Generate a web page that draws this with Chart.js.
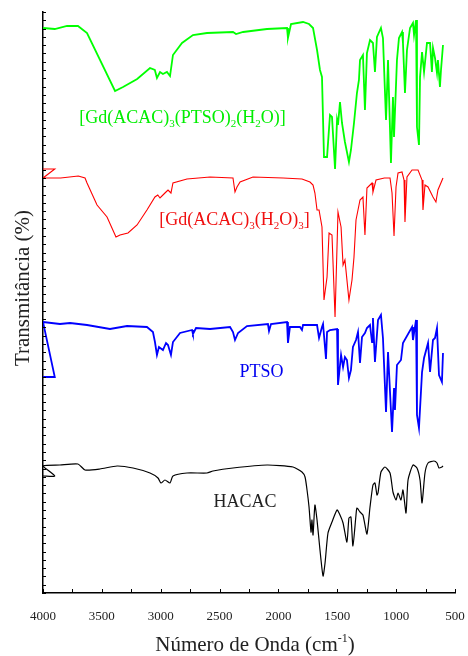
<!DOCTYPE html>
<html>
<head>
<meta charset="utf-8">
<script src="https://cdn.jsdelivr.net/npm/chart.js@4"></script>
<style>
  html, body { margin: 0; padding: 0; background: #fff; }
  canvas { display: block; }
</style>
</head>
<body>
<canvas id="c" width="468" height="656"></canvas>
<script>
// FTIR spectra, transmittance in arbitrary units, each trace shifted vertically.
// Wavenumber axis runs from 4000 down to 500 cm-1.

const xTickValues = [4000, 3500, 3000, 2500, 2000, 1500, 1000, 500];

// [Gd(ACAC)3(PTSO)2(H2O)]
const gdPtsoWn = [4000,3900,3796,3703,3626,3388,3320,3200,3091,3050,3032,3006,2981,2947,2921,2896,2819,2726,2607,2386,2360,2300,2097,1927,1919,1893,1791,1740,1706,1672,1647,1630,1613,1587,1562,1545,1519,1502,1494,1477,1460,1435,1401,1384,1358,1333,1316,1307,1282,1265,1248,1222,1197,1180,1163,1129,1112,1086,1069,1044,1027,1018,993,976,950,942,925,908,882,857,848,831,823,806,797,780,763,738,712,696,687,670,653,645,628,619,602];
const gdPtsoT  = [565,564,567,567,560,502,506,514,525,523,515,521,519,521,517,538,550,558,560,561,559,561,564,565,555,569,571,569,565,543,523,516,436,436,478,476,424,473,468,491,470,451,431,443,470,500,513,533,538,483,540,553,550,521,556,565,555,473,533,430,496,456,533,555,561,550,500,543,565,570,558,573,466,448,516,541,521,550,550,521,545,535,520,533,506,523,548];

// [Gd(ACAC)3(H2O)3]
const gdH2oWn = [4000,3900,4000,3850,3700,3643,3626,3541,3456,3380,3346,3278,3201,3117,3049,3025,3006,2964,2938,2913,2896,2777,2581,2386,2369,2352,2326,2216,1961,1800,1732,1706,1690,1672,1655,1630,1613,1587,1570,1545,1519,1494,1468,1451,1435,1401,1375,1358,1341,1307,1282,1265,1248,1205,1197,1171,1100,1052,1035,1018,1001,984,950,933,925,908,865,814,780,772,755,729,687,662,645,602];
const gdH2oT  = [424,424,415,415,417,415,410,388,376,356,358,360,368,383,396,398,395,400,403,400,410,414,416,415,401,406,411,416,415,414,411,408,400,383,383,366,293,316,360,358,276,381,366,328,333,293,313,336,373,393,396,358,405,410,401,413,415,415,400,357,406,420,421,413,371,416,423,423,413,383,408,406,396,391,403,415];

// PTSO
const ptsoWn = [4000,3900,4000,3856,3770,3626,3431,3286,3117,3066,3049,3032,3015,2981,2955,2938,2913,2896,2836,2734,2726,2700,2581,2411,2386,2369,2343,2267,2089,2080,2063,1927,1919,1902,1817,1800,1791,1672,1655,1630,1621,1596,1587,1562,1502,1494,1468,1451,1435,1418,1401,1384,1367,1341,1324,1307,1290,1265,1248,1222,1205,1197,1180,1154,1129,1112,1086,1069,1035,1018,1010,993,959,942,865,857,831,823,806,780,763,729,712,687,670,653,636,611,602];
const ptsoT  = [216,216,271,269,270,268,264,267,266,261,251,238,246,243,250,248,238,251,260,263,259,265,264,266,261,253,260,267,269,262,269,271,250,266,266,263,268,268,255,266,269,234,261,263,264,208,238,226,236,233,215,223,246,253,261,230,256,260,265,268,251,275,231,273,278,255,181,241,161,205,183,228,233,250,266,253,273,178,165,221,235,250,221,253,255,265,218,211,240];

// HACAC
const hacacWn = [4000,3900,4000,3856,3703,3643,3516,3371,3235,3091,3023,2998,2964,2921,2896,2777,2607,2556,2386,2097,1876,1800,1774,1757,1740,1723,1715,1706,1690,1672,1647,1621,1604,1579,1545,1502,1477,1451,1418,1401,1384,1367,1341,1333,1307,1282,1248,1222,1197,1180,1163,1154,1129,1095,1052,1027,1001,984,959,942,916,899,857,823,797,780,755,729,679,653,636,611,602];
const hacacT  = [117,117,127,128,129,123,124,127,125,120,115,110,113,110,117,120,120,122,125,128,126,121,116,103,86,61,73,58,88,73,43,17,30,60,71,83,78,70,51,75,76,47,78,85,81,78,59,86,108,110,98,100,121,126,120,101,93,100,93,103,80,113,128,125,113,90,120,130,132,130,125,126,127];

// Trace labels: text pieces ([text, isSubscript]) and their centre in data units
const traceLabels = [
  { parts: [['[Gd(ACAC)',0],['3',1],['(PTSO)',0],['2',1],['(H',0],['2',1],['O)]',0]], wn: 2815, t: 475, color: '#00ee00' },
  { parts: [['[Gd(ACAC)',0],['3',1],['(H',0],['2',1],['O)',0],['3',1],[']',0]], wn: 2373, t: 373, color: '#f01010' },
  { parts: [['PTSO',0]], wn: 2144, t: 221, color: '#0000f0' },
  { parts: [['HACAC',0]], wn: 2284, t: 91, color: '#222222' }
];

const SERIF = '"Liberation Serif", "DejaVu Serif", serif';

function pts(wn, t) {
  const n = Math.min(wn.length, t.length);
  const out = [];
  for (let i = 0; i < n; i++) out.push({ x: wn[i], y: t[i] });
  return out;
}

const spectraDecor = {
  id: 'spectraDecor',
  afterDraw(chart) {
    const ctx = chart.ctx;
    const xs = chart.scales.x, ys = chart.scales.y;
    const area = chart.chartArea;
    ctx.save();
    ctx.strokeStyle = '#000';
    ctx.lineWidth = 1;
    // inward ticks on the wavenumber axis, every 250 cm-1
    for (let v = 500; v <= 4000; v += 250) {
      const px = Math.round(xs.getPixelForValue(v)) + 0.5;
      ctx.beginPath();
      ctx.moveTo(px, area.bottom);
      ctx.lineTo(px, area.bottom - 4);
      ctx.stroke();
    }
    // inward minor ticks on the transmittance axis
    for (let v = 0; v <= ys.max + 0.01; v += 8.3) {
      const py = Math.round(ys.getPixelForValue(v)) + 0.5;
      ctx.beginPath();
      ctx.moveTo(area.left, py);
      ctx.lineTo(area.left + 3, py);
      ctx.stroke();
    }

    // trace labels with subscripts
    const mainFont = '18px ' + SERIF;
    const subFont = '11px ' + SERIF;
    ctx.textBaseline = 'middle';
    ctx.textAlign = 'left';
    traceLabels.forEach(lab => {
      let w = 0;
      lab.parts.forEach(([s, sub]) => {
        ctx.font = sub ? subFont : mainFont;
        w += ctx.measureText(s).width;
      });
      let x = xs.getPixelForValue(lab.wn) - w / 2;
      const y = ys.getPixelForValue(lab.t);
      ctx.fillStyle = lab.color;
      lab.parts.forEach(([s, sub]) => {
        ctx.font = sub ? subFont : mainFont;
        ctx.fillText(s, x, sub ? y + 6 : y);
        x += ctx.measureText(s).width;
      });
    });

    // axis titles
    ctx.fillStyle = '#222';
    ctx.textBaseline = 'alphabetic';
    // x title with superscript
    const xParts = [['Número de Onda (cm', 0], ['-1', 1], [')', 0]];
    const tFont = '21px ' + SERIF, supFont = '12px ' + SERIF;
    let tw = 0;
    xParts.forEach(([s, sup]) => { ctx.font = sup ? supFont : tFont; tw += ctx.measureText(s).width; });
    let tx = 255 - tw / 2;
    const ty = 651;
    xParts.forEach(([s, sup]) => {
      ctx.font = sup ? supFont : tFont;
      ctx.fillText(s, tx, sup ? ty - 9 : ty);
      tx += ctx.measureText(s).width;
    });
    // y title
    ctx.save();
    ctx.translate(29, 288);
    ctx.rotate(-Math.PI / 2);
    ctx.font = tFont;
    ctx.textAlign = 'center';
    ctx.fillText('Transmitância (%)', 0, 0);
    ctx.restore();

    ctx.restore();
  }
};

new Chart(document.getElementById('c'), {
  type: 'line',
  data: {
    datasets: [
      { label: '[Gd(ACAC)3(PTSO)2(H2O)]', data: pts(gdPtsoWn, gdPtsoT), borderColor: '#00ff00', borderWidth: 1.8, tension: 0 },
      { label: '[Gd(ACAC)3(H2O)3]', data: pts(gdH2oWn, gdH2oT), borderColor: '#ff0000', borderWidth: 1.1, tension: 0 },
      { label: 'PTSO', data: pts(ptsoWn, ptsoT), borderColor: '#0000ff', borderWidth: 1.8, tension: 0 },
      { label: 'HACAC', data: pts(hacacWn, hacacT), borderColor: '#000000', borderWidth: 1.2, tension: 0.2 }
    ]
  },
  options: {
    responsive: false,
    animation: false,
    devicePixelRatio: 1,
    parsing: false,
    elements: { point: { radius: 0 } },
    layout: { padding: { top: 12, right: 13, left: 0, bottom: 0 } },
    plugins: { legend: { display: false }, tooltip: { enabled: false } },
    scales: {
      x: {
        type: 'linear',
        min: 500, max: 4000,
        reverse: true,
        afterFit(s) { s.height = 63; s.paddingLeft = 0; s.paddingRight = 0; },
        afterBuildTicks(s) { s.ticks = xTickValues.map(v => ({ value: v })); },
        ticks: {
          autoSkip: false, maxRotation: 0, padding: 16,
          color: '#222',
          font: { family: SERIF, size: 13 },
          callback: v => String(v)
        },
        grid: { drawOnChartArea: false, drawTicks: false },
        border: { display: true, color: '#000', width: 1.5 }
      },
      y: {
        type: 'linear',
        min: 0, max: 581,
        afterFit(s) { s.width = 43; s.paddingTop = 0; s.paddingBottom = 0; },
        ticks: { display: false },
        grid: { drawOnChartArea: false, drawTicks: false },
        border: { display: true, color: '#000', width: 1.5 }
      }
    }
  },
  plugins: [spectraDecor]
});
</script>
</body>
</html>
